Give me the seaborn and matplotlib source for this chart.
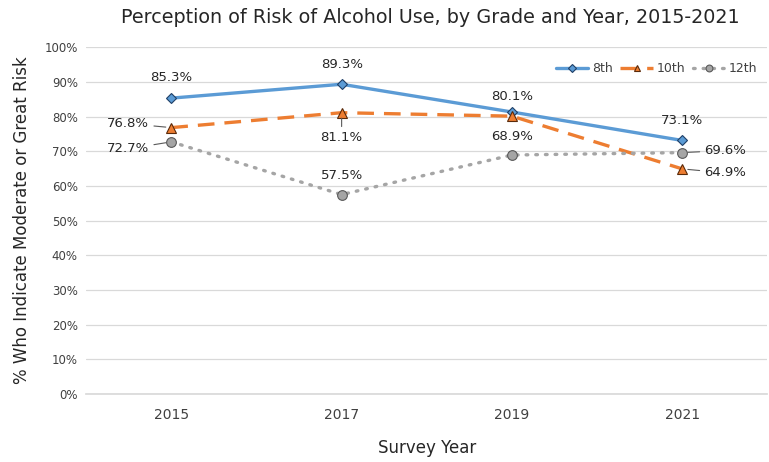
import matplotlib
matplotlib.use("Agg")
import matplotlib.pyplot as plt
import seaborn as sns
import pandas as pd

years = ["2015", "2017", "2019", "2021"]
grade_8 = [85.3, 89.3, 81.3, 73.1]
grade_10 = [76.8, 81.1, 80.1, 64.9]
grade_12 = [72.7, 57.5, 68.9, 69.6]
series_names = ["8th", "10th", "12th"]
y_ticks = [0, 10, 20, 30, 40, 50, 60, 70, 80, 90, 100]

sns.set_theme(style="white")
plt.rcParams['font.family'] = ['DejaVu Sans']

fig = plt.figure(figsize=(7.69, 4.62), dpi=100)
ax = fig.add_axes([0.112, 0.147, 0.886, 0.751])

colors = ["#5b9bd5", "#ed7d31", "#a5a5a5"]
edges = ["#1f3f66", "#5a2a0a", "#595959"]
markers = ["D", "^", "o"]
dashes = ["-", (0, (5, 3)), (0, (0.5, 2.4))]
msizes = [5.5, 7, 7]

df = pd.DataFrame({"year": years * 3,
                   "value": grade_8 + grade_10 + grade_12,
                   "grade": [s for s in series_names for _ in years]})
for i, name in enumerate(series_names):
    sub = df[df["grade"] == name]
    sns.lineplot(data=sub, x="year", y="value", ax=ax, color=colors[i],
                 linewidth=2.4, marker=markers[i], markersize=msizes[i],
                 markeredgecolor=edges[i], markeredgewidth=0.8,
                 label=name, sort=False)
    line = ax.get_lines()[-1]
    line.set_linestyle(dashes[i])
    if i == 2:
        line.set_dash_capstyle("round")

ax.set_xlim(-0.5, 3.5)
ax.set_ylim(0, 100)
ax.set_yticks(y_ticks)
ax.set_yticklabels([f"{t}%" for t in y_ticks], fontsize=8.5, color="#404040")
ax.tick_params(axis="x", labelsize=10, colors="#404040", length=0, pad=10)
ax.tick_params(axis="y", length=0, pad=6)
ax.grid(axis="y", color="#d9d9d9", linewidth=0.9)
ax.set_axisbelow(True)
for s in ["top", "right", "left"]:
    ax.spines[s].set_visible(False)
ax.spines["bottom"].set_color("#d9d9d9")

ax.set_xlabel("Survey Year", fontsize=12, color="#262626", labelpad=12)
ax.set_ylabel("% Who Indicate Moderate or Great Risk", fontsize=12, color="#262626", labelpad=10)
fig.text(0.56, 0.962, "Perception of Risk of Alcohol Use, by Grade and Year, 2015-2021",
         ha="center", va="center", fontsize=13.8, color="#262626")

def lab(x, y, text, dx, dy, ha="center", leader=False):
    ax.annotate(text, (x, y), xytext=(dx, dy), textcoords="offset pixels",
                ha=ha, va="center", fontsize=9.5, color="#262626",
                arrowprops=dict(arrowstyle="-", color="#595959", lw=0.8,
                                shrinkA=1, shrinkB=4) if leader else None)

lab(0, grade_8[0], "85.3%", 0, 21)
lab(1, grade_8[1], "89.3%", 0, 20)
lab(2, grade_10[2], "80.1%", 0, 20)
lab(3, grade_8[3], "73.1%", 0, 20)
lab(0, grade_10[0], "76.8%", -22, 4, ha="right", leader=True)
lab(0, grade_12[0], "72.7%", -22, -7, ha="right", leader=True)
lab(1, grade_10[1], "81.1%", 0, -25, leader=True)
lab(1, grade_12[1], "57.5%", 0, 19)
lab(2, grade_12[2], "68.9%", 0, 19)
lab(3, grade_12[3], "69.6%", 22, 2, ha="left", leader=True)
lab(3, grade_10[3], "64.9%", 22, -4, ha="left", leader=True)

leg = ax.legend(loc="upper right", bbox_to_anchor=(1.0, 0.985), ncol=3, fontsize=9,
                frameon=True, facecolor="white", edgecolor="white", framealpha=1,
                handlelength=2.6, columnspacing=0.6, handletextpad=0.3,
                borderpad=0.3, markerscale=0.7)
for t in leg.get_texts():
    t.set_color("#404040")

fig.savefig("out.png", dpi=100)
